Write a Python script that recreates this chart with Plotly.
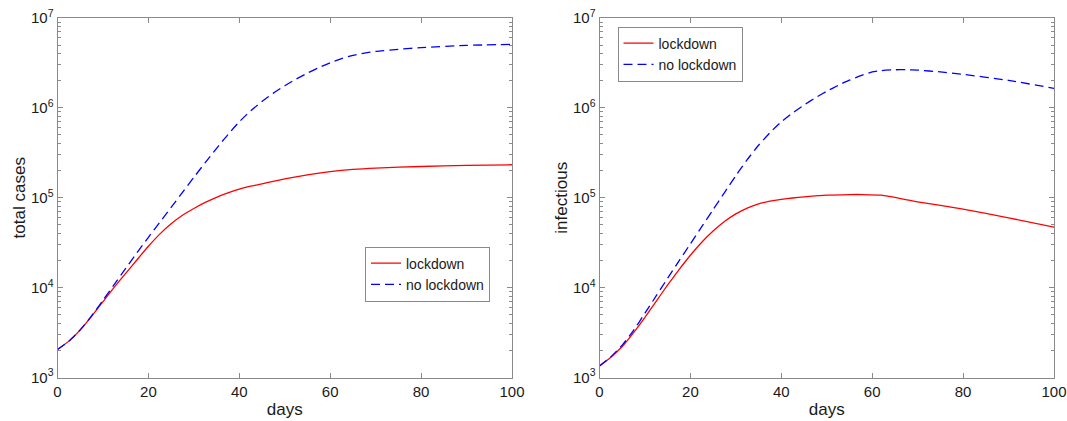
import plotly.graph_objects as go

# ---- data ----
days_total_ld = [0, 2.5, 5, 7.5, 10, 12.5, 15, 17.5, 20, 22.5, 25, 27.5, 30, 32.5, 35, 37.5,
                 40, 42.5, 45, 50, 55, 60, 65, 70, 80, 90, 100]
total_lockdown = [2050, 2540, 3390, 4790, 6970, 10120, 14390, 20420, 28840, 39360, 51290,
                  63830, 75860, 88720, 101200, 113000, 124500, 134300, 142900, 162200,
                  179900, 195000, 206500, 213800, 222800, 229100, 232800]

days_total_nl = [0, 2.5, 5, 7.5, 10, 12.5, 15, 17.5, 20, 22.5, 25, 27.5, 30, 32.5, 35, 37.5,
                 40, 42.5, 45, 47.5, 50, 52.5, 55, 57.5, 60, 62.5, 65, 67.5, 70, 75, 80, 90, 100]
total_no_lockdown = [2050, 2540, 3390, 4860, 7240, 10890, 16370, 24490, 36310, 53330, 78160,
                     114800, 168700, 245500, 354800, 504700, 699800, 926800, 1180000,
                     1459000, 1762000, 2089000, 2438000, 2805000, 3177000, 3532000,
                     3846000, 4064000, 4246000, 4487000, 4677000, 4955000, 5093000]

days_inf_ld = [0, 2.5, 5, 7.5, 10, 12.5, 15, 17.5, 20, 22.5, 25, 27.5, 30, 32.5, 35, 37.5, 40,
               42.5, 45, 50, 55, 58, 62, 70, 80, 90, 100]
inf_lockdown = [1340, 1680, 2210, 3160, 4680, 7080, 10720, 15850, 22910, 31990, 42660, 54330,
                66070, 76740, 85510, 91620, 95940, 99310, 102100, 106900, 108600, 108600,
                106700, 90160, 74820, 59840, 47100]

days_inf_nl = [0, 2.5, 5, 7.5, 10, 12.5, 15, 17.5, 20, 22.5, 25, 27.5, 30, 32.5, 35, 37.5, 40,
               42.5, 45, 47.5, 50, 52.5, 55, 57.5, 60, 62, 65, 67.5, 70, 75, 80, 90, 100]
inf_no_lockdown = [1340, 1700, 2290, 3350, 5190, 8130, 12740, 19860, 30760, 47640, 73790,
                   114300, 176200, 265500, 383700, 529700, 698200, 879000, 1076000, 1294000,
                   1531000, 1778000, 2032000, 2280000, 2512000, 2600000, 2655000, 2661000,
                   2630000, 2512000, 2360000, 2023000, 1648000]

x_ticks = [0, 20, 40, 60, 80, 100]
y_ticks = [1e3, 1e4, 1e5, 1e6, 1e7]
y_ticktext = ["10<sup>3</sup>", "10<sup>4</sup>", "10<sup>5</sup>", "10<sup>6</sup>", "10<sup>7</sup>"]
minor_vals = [k * 10 ** p for p in range(3, 7) for k in range(2, 10)]

RED = "#ff0000"
BLUE = "#0000ff"
AX = "#8a8a8a"
TXT = "#1a1a1a"
FONT = "Liberation Sans, Arial, Helvetica, sans-serif"
DASH = "9px,5px"

fig = go.Figure()

fig.add_trace(go.Scatter(x=days_total_ld, y=total_lockdown, mode="lines", name="lockdown",
                         line=dict(color=RED, width=1.3, shape="spline", smoothing=0.6),
                         xaxis="x", yaxis="y", legend="legend"))
fig.add_trace(go.Scatter(x=days_total_nl, y=total_no_lockdown, mode="lines", name="no lockdown",
                         line=dict(color=BLUE, width=1.3, dash=DASH, shape="spline", smoothing=0.6),
                         xaxis="x", yaxis="y", legend="legend"))
fig.add_trace(go.Scatter(x=days_inf_ld, y=inf_lockdown, mode="lines", name="lockdown",
                         line=dict(color=RED, width=1.3, shape="spline", smoothing=0.5),
                         xaxis="x2", yaxis="y2", legend="legend2"))
fig.add_trace(go.Scatter(x=days_inf_nl, y=inf_no_lockdown, mode="lines", name="no lockdown",
                         line=dict(color=BLUE, width=1.3, dash=DASH, shape="spline", smoothing=0.5),
                         xaxis="x2", yaxis="y2", legend="legend2"))

W, H = 1067, 421
ytop, ybot = 18, 377.5
ydom = [1 - ybot / H, 1 - ytop / H]


def xaxis(dom, anchor):
    return dict(domain=dom, anchor=anchor, range=[0, 100], tickvals=x_ticks,
                ticks="inside", ticklen=5, tickcolor=AX, showline=True, linecolor=AX,
                linewidth=1, mirror="ticks", showgrid=False, zeroline=False,
                tickfont=dict(family=FONT, size=15, color=TXT),
                title=dict(text="days", font=dict(family=FONT, size=17, color=TXT), standoff=4),
                automargin=False)


def yaxis(anchor, title):
    return dict(domain=ydom, anchor=anchor, type="log", range=[3, 7], tickvals=y_ticks,
                ticktext=y_ticktext, ticks="inside", ticklen=5, tickcolor=AX,
                showline=True, linecolor=AX, linewidth=1, mirror="ticks",
                showgrid=False, zeroline=False,
                minor=dict(tickvals=minor_vals, ticks="inside", ticklen=3, tickcolor=AX, showgrid=False),
                tickfont=dict(family=FONT, size=15, color=TXT),
                title=dict(text=title, font=dict(family=FONT, size=17, color=TXT), standoff=1),
                automargin=False)


legend_common = dict(bgcolor="white", bordercolor=AX, borderwidth=1,
                     font=dict(family=FONT, size=14, color=TXT),
                     xanchor="left", yanchor="middle", tracegroupgap=0, itemwidth=30)

fig.update_layout(
    width=W, height=H,
    margin=dict(l=0, r=0, t=0, b=0),
    paper_bgcolor="white", plot_bgcolor="white",
    xaxis=xaxis([57.5 / W, 512 / W], "y"),
    yaxis=yaxis("x", "total cases"),
    xaxis2=xaxis([599.5 / W, 1054 / W], "y2"),
    yaxis2=yaxis("x2", "infectious"),
    legend=dict(x=365 / W, y=1 - 274 / H, **legend_common),
    legend2=dict(x=617.5 / W, y=1 - 54 / H, **legend_common),
    showlegend=True,
)

fig.write_html("out.html", config={"displayModeBar": False},
               post_script="document.body.style.margin='0px';")
